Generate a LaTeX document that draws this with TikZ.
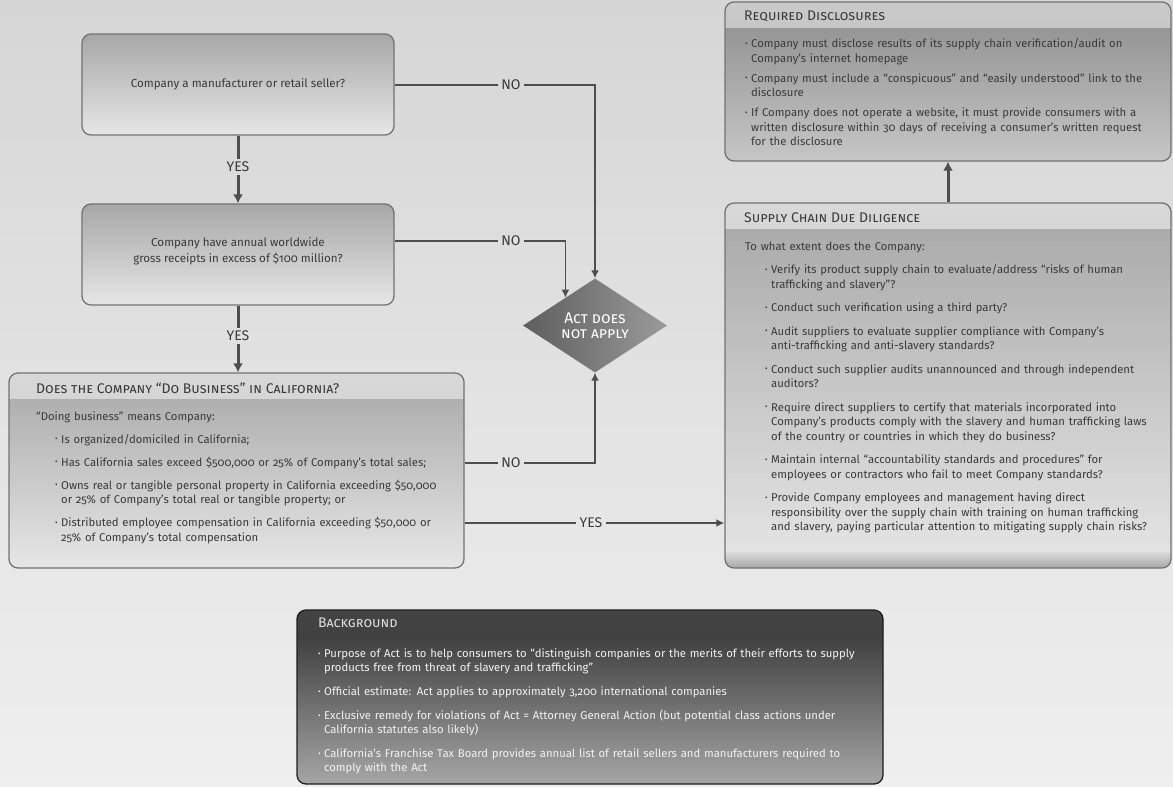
\documentclass[tikz,border=0pt]{standalone}
\usepackage{fontspec}
\setmainfont{Fira Sans}[Numbers=OldStyle]
\usetikzlibrary{shapes.geometric,arrows.meta,calc,positioning}

\definecolor{papertop}{HTML}{D6D6D6}
\definecolor{paperbot}{HTML}{EFEFEF}
\definecolor{boxtop}{HTML}{A7A7A7}
\definecolor{boxbot}{HTML}{E6E6E6}
\definecolor{boxline}{HTML}{727272}
\definecolor{bandtop}{HTML}{D8D8D8}
\definecolor{bandbot}{HTML}{C4C4C4}
\definecolor{discband}{HTML}{CACACA}
\definecolor{discbandbot}{HTML}{B6B6B6}
\definecolor{disctop}{HTML}{8C8C8C}
\definecolor{discbot}{HTML}{C6C6C6}
\definecolor{darktop}{HTML}{2E2E2E}
\definecolor{darkbot}{HTML}{A6A6A6}
\definecolor{darkband}{HTML}{444444}
\definecolor{darkline}{HTML}{1E1E1E}
\definecolor{diadark}{HTML}{5E5E5E}
\definecolor{dialight}{HTML}{9A9A9A}
\definecolor{ink}{HTML}{3A3A3A}
\definecolor{wire}{HTML}{4E4E4E}

% bullet paragraph, optional left indent
\newcommand\bitem[1][0pt]{\par\hangindent=\dimexpr#1+6pt\relax\hangafter=1\noindent
  \hspace*{#1}\makebox[6pt][l]{\raisebox{0.25ex}{\scalebox{0.7}{\textbullet}}}\ignorespaces}

\tikzset{
  qbox/.style={draw=boxline, line width=1.3pt, rounded corners=9pt,
    top color=boxtop, bottom color=boxbot, inner sep=0pt},
  band/.style 2 args={path picture={\shade[sharp corners, top color=#1, bottom color=#2]
      (path picture bounding box.north west) rectangle
      ([yshift=-25pt]path picture bounding box.north east);}},
  head/.style={font=\fontsize{14}{16}\selectfont\scshape, text=ink, inner sep=0pt, anchor=west},
  body/.style={font=\fontsize{11.3}{14.5}\selectfont, text=ink, inner sep=0pt, anchor=north west},
  verdict/.style={diamond, minimum width=144pt, minimum height=85pt, inner sep=0pt,
    left color=diadark, right color=dialight, text=white, align=center,
    font=\fontsize{15.5}{15.5}\selectfont\scshape},
  tag/.style={font=\fontsize{14}{16}\selectfont, text=ink, inner sep=3pt},
  link/.style={draw=wire, line width=1.5pt},
  flow/.style={draw=wire, line width=3pt},
  pointed/.style={-{Latex[length=8pt,width=8pt]}},
  bigpointed/.style={-{Latex[length=9pt,width=10pt]}},
}

\begin{document}
\begin{tikzpicture}[x=1pt, y=-1pt]
  % paper
  \shade[top color=papertop, bottom color=paperbot] (0,0) rectangle (1173,787);
  \useasboundingbox (0,0) rectangle (1173,787);

  % left column questions
  \node[qbox, minimum width=312pt, minimum height=101pt, font=\fontsize{11.6}{16}\selectfont, text=ink]
    (maker) at (238,84.5) {Company a manufacturer or retail seller?};
  \node[qbox, minimum width=312pt, minimum height=101pt, font=\fontsize{11.6}{16}\selectfont, text=ink, align=center]
    (receipts) at (238,254.5) {Company have annual worldwide\\gross receipts in excess of \$100 million?\\[-6pt]};
  \node[qbox, band={bandtop}{bandbot}, minimum width=455pt, minimum height=195pt]
    (business) at (236.5,470.5) {};
  \node[head] (business-head) at (36,388) {Does the Company “Do Business” in California?};
  \node[body, text width=425pt] (business-body) at (36,411) {\raggedright\setlength\parskip{8.5pt}%
    “Doing business” means Company:
    \bitem[19pt] Is organized/domiciled in California;
    \bitem[19pt] Has California sales exceed \$500,000 or 25\% of Company’s total sales;
    \bitem[19pt] Owns real or tangible personal property in California exceeding \$50,000\newline
      or 25\% of Company’s total real or tangible property; or
    \bitem[19pt] Distributed employee compensation in California exceeding \$50,000 or\newline
      25\% of Company’s total compensation\par};

  % outcome
  \node[verdict] (noact) at (595,325.5) {Act does\\not apply};

  % right column
  \node[qbox, band={discband}{discbandbot}, top color=disctop, bottom color=discbot,
    minimum width=446pt, minimum height=159pt] (disclose) at (948,81.5) {};
  \node[head] (disclose-head) at (744,16) {Required Disclosures};
  \node[body, text width=424pt] (disclose-body) at (745,27.5) {\raggedright\setlength\parskip{5.5pt}%
    \bitem Company must disclose results of its supply chain verification/audit on\newline
      Company’s internet homepage
    \bitem Company must include a “conspicuous” and “easily understood” link to the\newline
      disclosure
    \bitem If Company does not operate a website, it must provide consumers with a\newline
      written disclosure within 30 days of receiving a consumer’s written request\newline
      for the disclosure\par};

  \node[qbox, minimum width=446pt, minimum height=365pt,
    path picture={\shade[sharp corners, top color=bandtop, bottom color=bandbot]
      (path picture bounding box.north west) rectangle ([yshift=-25pt]path picture bounding box.north east);
      \shade[sharp corners, top color=boxbot!95!black, bottom color=boxtop]
      ([yshift=16pt]path picture bounding box.south west) rectangle (path picture bounding box.south east);}]
    (diligence) at (948,385.5) {};
  \node[head] (diligence-head) at (744,218) {Supply Chain Due Diligence};
  \node[body, text width=424pt] (diligence-body) at (745,241.5) {\raggedright\setlength\parskip{9pt}%
    To what extent does the Company:
    \bitem[20pt] Verify its product supply chain to evaluate/address “risks of human\newline
      trafficking and slavery”?
    \bitem[20pt] Conduct such verification using a third party?
    \bitem[20pt] Audit suppliers to evaluate supplier compliance with Company’s\newline
      anti-trafficking and anti-slavery standards?
    \bitem[20pt] Conduct such supplier audits unannounced and through independent\newline
      auditors?
    \bitem[20pt] Require direct suppliers to certify that materials incorporated into\newline
      Company’s products comply with the slavery and human trafficking laws\newline
      of the country or countries in which they do business?
    \bitem[20pt] Maintain internal “accountability standards and procedures” for\newline
      employees or contractors who fail to meet Company standards?
    \bitem[20pt] Provide Company employees and management having direct\newline
      responsibility over the supply chain with training on human trafficking\newline
      and slavery, paying particular attention to mitigating supply chain risks?\par};

  % background facts
  \node[qbox, band={darkband}{darktop}, draw=darkline, top color=darktop, bottom color=darkbot,
    minimum width=586pt, minimum height=174pt] (background) at (590,697) {};
  \node[head, text=gray!25] (background-head) at (318,623) {Background};
  \node[body, text=white!95!black, text width=560pt, font=\fontsize{11.3}{14}\selectfont]
    (background-body) at (318,633.5) {\raggedright\setlength\parskip{10pt}%
    \bitem Purpose of Act is to help consumers to “distinguish companies or the merits of their efforts to supply\newline
      products free from threat of slavery and trafficking”
    \bitem Official estimate: Act applies to approximately 3,200 international companies
    \bitem Exclusive remedy for violations of Act = Attorney General Action (but potential class actions under\newline
      California statutes also likely)
    \bitem California’s Franchise Tax Board provides annual list of retail sellers and manufacturers required to\newline
      comply with the Act\par};

  % yes path down the left
  \node[tag] (yes1) at (238,167) {YES};
  \draw[flow] (maker) -- (yes1);
  \draw[flow, bigpointed] (yes1) -- (receipts);
  \node[tag] (yes2) at (238,336) {YES};
  \draw[flow] (receipts) -- (yes2);
  \draw[flow, bigpointed] (yes2) -- (yes2 |- business.north);

  % no answers into the diamond
  \node[tag] (no1) at (511,85) {NO};
  \draw[link] (no1 -| maker.east) -- (no1);
  \draw[link, pointed] (no1) -| (noact);
  \node[tag] (no2) at (511,241) {NO};
  \draw[link] (no2 -| receipts.east) -- (no2);
  \draw[link, pointed] (no2) -| ($(noact.north)!0.41!(noact.west)$);
  \node[tag] (no3) at (511,463) {NO};
  \draw[link] (no3 -| business.east) -- (no3);
  \draw[link, pointed] (no3) -| (noact);

  % yes into due diligence, then disclosures
  \node[tag] (yes3) at (591,523) {YES};
  \draw[link] (yes3 -| business.east) -- (yes3);
  \draw[link, pointed] (yes3) -- (yes3 -| diligence.west);
  \draw[flow, bigpointed] (diligence.north) -- (disclose.south);
\end{tikzpicture}
\end{document}
